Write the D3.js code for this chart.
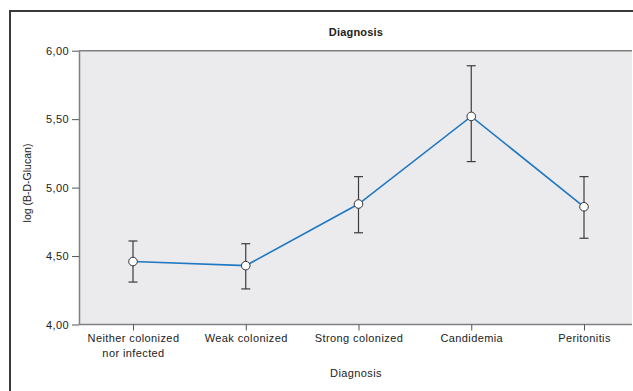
<!DOCTYPE html>
<html>
<head>
<meta charset="utf-8">
<script src="https://cdn.jsdelivr.net/npm/d3@7"></script>
<style>
  html, body { margin: 0; padding: 0; background: #fff; }
  svg { display: block; font-family: "Liberation Sans", Arial, sans-serif; }
</style>
</head>
<body>
<svg id="chart" width="633" height="391"></svg>
<script>
// Group means of log(B-D-Glucan) with 95% CI bounds
const categories = ["Neither colonized\nnor infected", "Weak colonized", "Strong colonized", "Candidemia", "Peritonitis"];
const means = [4.46, 4.43, 4.88, 5.52, 4.86];
const lower = [4.31, 4.26, 4.67, 5.19, 4.63];
const upper = [4.61, 4.59, 5.08, 5.89, 5.08];
const yTicks = [4.0, 4.5, 5.0, 5.5, 6.0];

const data = categories.map((c, i) => ({ c, m: means[i], lo: lower[i], hi: upper[i] }));

const svg = d3.select("#chart");
const plot = { left: 79, right: 632, top: 50.7, bottom: 324.5 };
const LS = 0.4; // letter spacing for label text

const x = d3.scalePoint().domain(categories).range([133, 584]);
const y = d3.scaleLinear().domain([4, 6]).range([plot.bottom, plot.top]);

// Outer frame
svg.append("rect")
  .attr("x", 10).attr("y", 11).attr("width", 640).attr("height", 400)
  .attr("fill", "none").attr("stroke", "#3a3a3a").attr("stroke-width", 2);

// Plot background
svg.append("rect")
  .attr("x", plot.left).attr("y", plot.top)
  .attr("width", plot.right - plot.left).attr("height", plot.bottom - plot.top)
  .attr("fill", "#ebebee");

// Top frame line of the plot
svg.append("line")
  .attr("x1", plot.left).attr("x2", plot.right)
  .attr("y1", plot.top).attr("y2", plot.top)
  .attr("stroke", "#808080").attr("stroke-width", 1.5);

// Y axis
const yAxis = svg.append("g")
  .attr("transform", `translate(${plot.left},0)`)
  .call(d3.axisLeft(y).tickValues(yTicks).tickSize(7).tickSizeOuter(0)
    .tickFormat(d => d3.format(".2f")(d).replace(".", ",")));
yAxis.select(".domain").attr("stroke", "#808080").attr("stroke-width", 1.5);
yAxis.selectAll(".tick line").attr("stroke", "#555");
yAxis.selectAll(".tick text").attr("x", -10).attr("font-size", 11).attr("fill", "#222")
  .attr("letter-spacing", LS)
  .attr("font-family", "Liberation Sans, Arial, sans-serif");

// X axis
const xAxis = svg.append("g")
  .attr("transform", `translate(0,${plot.bottom})`)
  .call(d3.axisBottom(x).tickSize(6).tickSizeOuter(0).tickFormat(""));
xAxis.select(".domain").attr("d", `M${plot.left},0H${plot.right}`)
  .attr("stroke", "#808080").attr("stroke-width", 1.5);
xAxis.selectAll(".tick line").attr("stroke", "#555");
xAxis.selectAll(".tick").each(function(d) {
  const lines = d.split("\n");
  const t = d3.select(this).append("text")
    .attr("text-anchor", "middle").attr("font-size", 11).attr("fill", "#222")
    .attr("letter-spacing", LS)
    .attr("font-family", "Liberation Sans, Arial, sans-serif");
  lines.forEach((ln, i) => {
    t.append("tspan").attr("x", 0).attr("y", 17.5 + i * 14.5).text(ln);
  });
});

// Error bars
const cap = 4.5;
const eb = svg.append("g").attr("stroke", "#3c3c3c").attr("stroke-width", 1.2).attr("fill", "none");
data.forEach(d => {
  const cx = x(d.c);
  eb.append("line").attr("x1", cx).attr("x2", cx).attr("y1", y(d.hi)).attr("y2", y(d.lo));
  eb.append("line").attr("x1", cx - cap).attr("x2", cx + cap).attr("y1", y(d.hi)).attr("y2", y(d.hi));
  eb.append("line").attr("x1", cx - cap).attr("x2", cx + cap).attr("y1", y(d.lo)).attr("y2", y(d.lo));
});

// Mean line
svg.append("path").datum(data)
  .attr("fill", "none").attr("stroke", "#1f78c1").attr("stroke-width", 1.6)
  .attr("d", d3.line().x(d => x(d.c)).y(d => y(d.m)));

// Mean markers
svg.append("g").selectAll("circle").data(data).join("circle")
  .attr("cx", d => x(d.c)).attr("cy", d => y(d.m)).attr("r", 4.3)
  .attr("fill", "#fff").attr("stroke", "#333").attr("stroke-width", 1);

// Titles
svg.append("text").attr("x", 356).attr("y", 36).attr("text-anchor", "middle")
  .attr("font-size", 11).attr("font-weight", "bold").attr("fill", "#222")
  .attr("letter-spacing", 0.2).text("Diagnosis");
svg.append("text").attr("x", 356).attr("y", 377).attr("text-anchor", "middle")
  .attr("font-size", 11).attr("fill", "#222").attr("letter-spacing", LS).text("Diagnosis");
svg.append("text").attr("transform", "translate(31,183) rotate(-90)").attr("text-anchor", "middle")
  .attr("font-size", 10.5).attr("fill", "#222").text("log (B-D-Glucan)");
</script>
</body>
</html>
